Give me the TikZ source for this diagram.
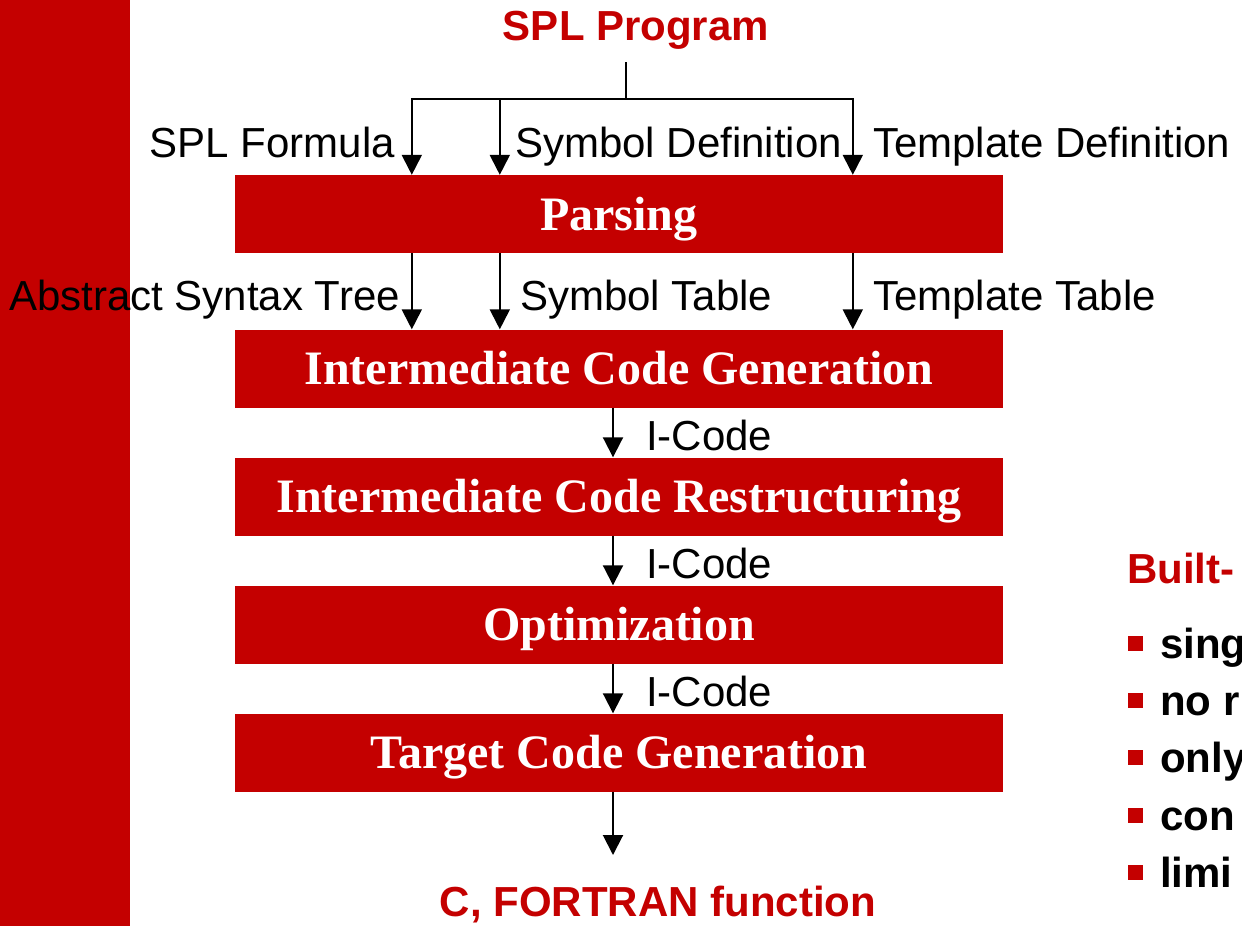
\documentclass[tikz,border=0pt]{standalone}
\usepackage{fontspec}
\setmainfont{Liberation Serif}
\setsansfont{Liberation Sans}
\usetikzlibrary{arrows.meta}
\definecolor{spred}{RGB}{196,0,0}
\tikzset{
  stage/.style={fill=spred, draw=none, text=white, inner sep=0pt,
    minimum width=768pt, minimum height=78pt,
    font=\rmfamily\bfseries\fontsize{48}{54}\selectfont,
    text height=32pt, text depth=0pt},
  lbl/.style={font=\sffamily\fontsize{42}{48}\selectfont, inner sep=0pt, text=black},
  title/.style={font=\sffamily\bfseries\fontsize{42}{48}\selectfont, inner sep=0pt, text=spred},
  item/.style={font=\sffamily\bfseries\fontsize{42}{48}\selectfont, inner sep=0pt, text=black, anchor=base west},
  bullet/.style={fill=spred, draw=none, minimum size=15pt, inner sep=0pt},
  flow/.style={line width=2pt, -{Triangle[width=20pt,length=20pt]}},
  wire/.style={line width=2pt}
}
\begin{document}
\begin{tikzpicture}[x=1pt,y=-1pt]
  \clip (0,0) rectangle (1242,926);
  \fill[white] (0,0) rectangle (1242,926);
  % side bar
  \fill[spred] (0,0) rectangle (130,926);

  % compiler stages
  \node[stage] (parse) at (619,214)   {Parsing};
  \node[stage] (icg)   at (619,368.5) {Intermediate Code Generation};
  \node[stage] (icr)   at (619,496.5) {Intermediate Code Restructuring};
  \node[stage] (opt)   at (619,624.5) {Optimization};
  \node[stage] (tcg)   at (619,752.5) {Target Code Generation};

  % input and output
  \node[title, anchor=base] (prog) at (636,40) {SPL Program};
  \node[title, anchor=base] (out)  at (658,916) {C, FORTRAN function};

  % input split into the three parser inputs
  \coordinate (src) at (626,62);
  \coordinate (fork) at (626,99);
  \draw[wire] (src) -- (fork);
  \draw[flow] (fork) -| ([xshift=177pt]parse.north west);
  \draw[flow] (fork) -| ([xshift=265pt]parse.north west);
  \draw[flow] (fork) -| ([xshift=618pt]parse.north west);
  \node[lbl, anchor=base east] (l1) at (395,157) {SPL Formula};
  \node[lbl, anchor=base west] (l2) at (515,157) {Symbol Definition};
  \node[lbl, anchor=base west] (l3) at (873,157) {Template Definition};

  % parser outputs
  \draw[flow] ([xshift=177pt]parse.south west) -- ([xshift=177pt]icg.north west);
  \draw[flow] ([xshift=265pt]parse.south west) -- ([xshift=265pt]icg.north west);
  \draw[flow] ([xshift=618pt]parse.south west) -- ([xshift=618pt]icg.north west);
  \node[lbl, anchor=base east] (l4) at (400,310) {Abstract Syntax Tree};
  \node[lbl, anchor=base west] (l5) at (520,310) {Symbol Table};
  \node[lbl, anchor=base west] (l6) at (873,310) {Template Table};

  % I-Code chain
  \draw[flow] ([xshift=-6pt]icg.south) -- ([xshift=-6pt]icr.north);
  \draw[flow] ([xshift=-6pt]icr.south) -- ([xshift=-6pt]opt.north);
  \draw[flow] ([xshift=-6pt]opt.south) -- ([xshift=-6pt]tcg.north);
  \node[lbl, anchor=base west] (c1) at (646,450) {I-Code};
  \node[lbl, anchor=base west] (c2) at (646,578) {I-Code};
  \node[lbl, anchor=base west] (c3) at (646,706) {I-Code};

  % final output
  \coordinate (end) at (613,855);
  \draw[flow] ([xshift=-6pt]tcg.south) -- (end);

  % side list, running past the right edge
  \node[title, anchor=base west] (built) at (1127,583) {Built-};
  \foreach \y/\t [count=\i] in {658/sing, 715/no r, 772/only, 830/con, 887/limi} {
    \node[bullet] (b\i) at (1135.5,\y-15) {};
    \node[item] (t\i) at (1160,\y) {\t};
  }
\end{tikzpicture}
\end{document}
